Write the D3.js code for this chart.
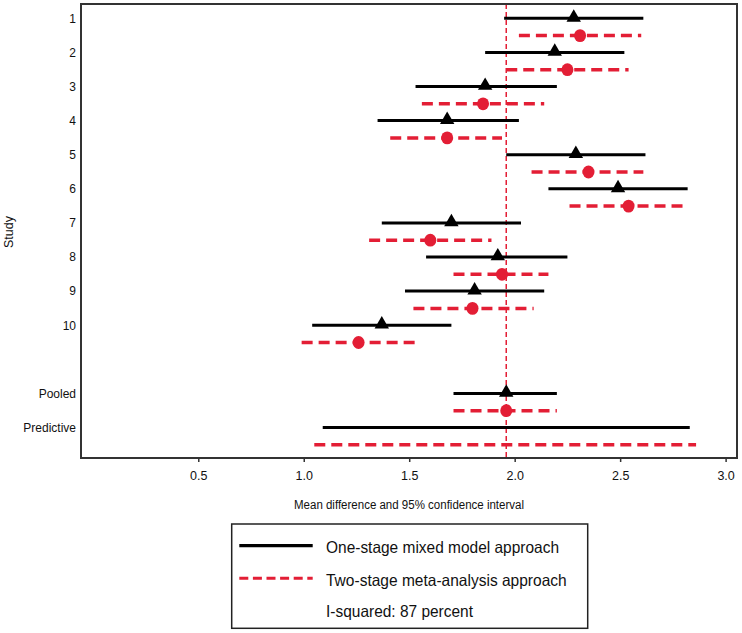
<!DOCTYPE html>
<html>
<head>
<meta charset="utf-8">
<script src="https://cdn.jsdelivr.net/npm/d3@7"></script>
<style>
  html, body { margin: 0; padding: 0; background: #fff; }
  svg { display: block; font-family: "Liberation Sans", Arial, sans-serif; }
</style>
</head>
<body>
<svg id="chart" width="742" height="633"></svg>
<script>
// ---- data ----
const rowLabels = ["1", "2", "3", "4", "5", "6", "7", "8", "9", "10", "", "Pooled", "Predictive"];
const studies = ["1", "2", "3", "4", "5", "6", "7", "8", "9", "10", "Pooled", "Predictive"];
const oneStageEst = [2.28, 2.19, 1.86, 1.68, 2.29, 2.49, 1.70, 1.92, 1.81, 1.37, 1.96, null];
const oneStageLo  = [1.95, 1.86, 1.53, 1.35, 1.96, 2.16, 1.37, 1.58, 1.48, 1.04, 1.71, 1.09];
const oneStageHi  = [2.61, 2.52, 2.20, 2.02, 2.62, 2.82, 2.03, 2.25, 2.14, 1.70, 2.20, 2.83];
const twoStageEst = [2.31, 2.25, 1.85, 1.68, 2.35, 2.54, 1.60, 1.94, 1.80, 1.26, 1.96, null];
const twoStageLo  = [2.02, 1.96, 1.56, 1.41, 2.08, 2.26, 1.31, 1.71, 1.52, 0.99, 1.71, 1.05];
const twoStageHi  = [2.60, 2.54, 2.14, 1.94, 2.61, 2.82, 1.89, 2.16, 2.09, 1.53, 2.20, 2.86];
const refValue = 1.96;
const xTicks = [0.5, 1.0, 1.5, 2.0, 2.5, 3.0];
const legendLabels = ["One-stage mixed model approach", "Two-stage meta-analysis approach"];
const legendNote = "I-squared: 87 percent";
const xTitle = "Mean difference and 95% confidence interval";
const yTitle = "Study";

// ---- layout ----
const RED = "#e31e35";
const frame = { left: 81, right: 737, top: 4, bottom: 458 };
const svg = d3.select("#chart");
svg.append("rect").attr("width", 742).attr("height", 633).attr("fill", "#fff");

const x = d3.scaleLinear().domain([-0.056, 3.054]).range([frame.left, frame.right]);
const y = d3.scalePoint().domain(rowLabels).range([18.3, 427.5]).padding(0);
const redOffset = 17.3;

// reference line
svg.append("line")
  .attr("x1", x(refValue)).attr("x2", x(refValue))
  .attr("y1", frame.top).attr("y2", frame.bottom)
  .attr("stroke", RED).attr("stroke-width", 1.5).attr("stroke-dasharray", "5,3");

const rows = studies.map((s, i) => ({
  s, e1: oneStageEst[i], l1: oneStageLo[i], h1: oneStageHi[i],
  e2: twoStageEst[i], l2: twoStageLo[i], h2: twoStageHi[i]
}));

const g = svg.append("g");
g.selectAll(".l1").data(rows).join("line")
  .attr("x1", d => x(d.l1)).attr("x2", d => x(d.h1))
  .attr("y1", d => y(d.s)).attr("y2", d => y(d.s))
  .attr("stroke", "#000").attr("stroke-width", 3);
g.selectAll(".l2").data(rows).join("line")
  .attr("x1", d => x(d.l2)).attr("x2", d => x(d.h2))
  .attr("y1", d => y(d.s) + redOffset).attr("y2", d => y(d.s) + redOffset)
  .attr("stroke", RED).attr("stroke-width", 3.5).attr("stroke-dasharray", "11,6");
g.selectAll(".tri").data(rows.filter(d => d.e1 != null)).join("path")
  .attr("d", d3.symbol().type(d3.symbolTriangle).size(90))
  .attr("transform", d => `translate(${x(d.e1)},${y(d.s) - 0.8})`)
  .attr("fill", "#000");
g.selectAll(".dot").data(rows.filter(d => d.e2 != null)).join("ellipse")
  .attr("cx", d => x(d.e2)).attr("cy", d => y(d.s) + redOffset)
  .attr("rx", 6).attr("ry", 6.4)
  .attr("fill", RED);

// frame
svg.append("rect")
  .attr("x", frame.left).attr("y", frame.top)
  .attr("width", frame.right - frame.left).attr("height", frame.bottom - frame.top)
  .attr("fill", "none").attr("stroke", "#333").attr("stroke-width", 2);

// x axis
const xAxis = svg.append("g").attr("transform", `translate(0,${frame.bottom})`)
  .call(d3.axisBottom(x).tickValues(xTicks).tickFormat(d3.format(".1f"))
    .tickSize(4).tickPadding(9.5).tickSizeOuter(0));
xAxis.select(".domain").remove();
xAxis.selectAll(".tick line").attr("stroke", "#333").attr("stroke-width", 1.5);
xAxis.selectAll("text").attr("font-size", 12.5).attr("fill", "#111")
  .attr("font-family", "'Liberation Sans', Arial, sans-serif");

// y axis
const yAxis = svg.append("g").attr("transform", `translate(${frame.left},0)`)
  .call(d3.axisLeft(y).tickSize(0).tickPadding(5));
yAxis.select(".domain").remove();
yAxis.selectAll("text").attr("font-size", 12).attr("fill", "#111")
  .attr("font-family", "'Liberation Sans', Arial, sans-serif");

// axis titles
svg.append("text").attr("x", 409).attr("y", 509).attr("text-anchor", "middle")
  .attr("font-size", 12).attr("textLength", 230).attr("lengthAdjust", "spacingAndGlyphs")
  .attr("fill", "#111").text(xTitle);
svg.append("text").attr("transform", "translate(13.3,232) rotate(-90)")
  .attr("text-anchor", "middle").attr("font-size", 12.5).attr("fill", "#111").text(yTitle);

// legend
const lg = svg.append("g");
lg.append("rect").attr("x", 231.7).attr("y", 524).attr("width", 356).attr("height", 104.3)
  .attr("fill", "#fff").attr("stroke", "#222").attr("stroke-width", 1.5);
lg.append("line").attr("x1", 239.3).attr("x2", 312.7).attr("y1", 545.7).attr("y2", 545.7)
  .attr("stroke", "#000").attr("stroke-width", 3.3);
lg.append("line").attr("x1", 239.3).attr("x2", 312.7).attr("y1", 578.3).attr("y2", 578.3)
  .attr("stroke", RED).attr("stroke-width", 3).attr("stroke-dasharray", "9,4.6");
const legTexts = [legendLabels[0], legendLabels[1], legendNote];
const legY = [552.5, 585.5, 616.5];
const legW = [233, 240.7, 147];
lg.selectAll(".lt").data(legTexts).join("text")
  .attr("x", 326).attr("y", (d, i) => legY[i])
  .attr("font-size", 16.5)
  .attr("textLength", (d, i) => legW[i]).attr("lengthAdjust", "spacingAndGlyphs")
  .attr("fill", "#111").text(d => d);
</script>
</body>
</html>
